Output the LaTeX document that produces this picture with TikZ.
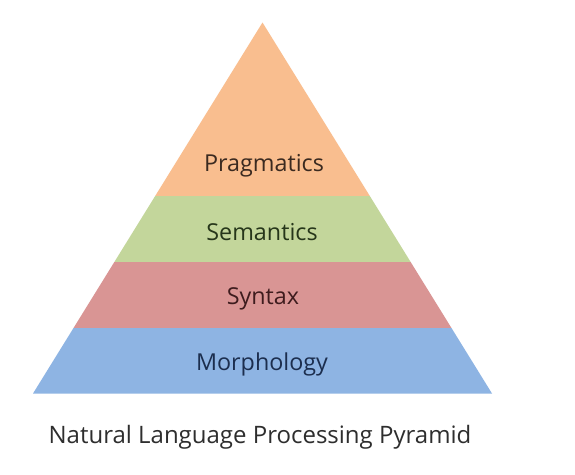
\documentclass[tikz,border=0pt]{standalone}
\usepackage{fontspec}
\setmainfont{Open Sans}
\usetikzlibrary{calc}
\definecolor{pragfill}{HTML}{F9BE8F}
\definecolor{semfill}{HTML}{C3D69B}
\definecolor{synfill}{HTML}{D99594}
\definecolor{morfill}{HTML}{8EB4E3}
\definecolor{pragtext}{HTML}{3B2A20}
\definecolor{semtext}{HTML}{26361A}
\definecolor{syntext}{HTML}{3E1C1E}
\definecolor{mortext}{HTML}{1C2E4E}
\definecolor{captext}{HTML}{2E2E2E}
\tikzset{layer/.style={font=\fontsize{17.5}{20}\selectfont}}

\begin{document}
\begin{tikzpicture}[x=0.75pt,y=-0.75pt]
    \useasboundingbox[fill=white] (0,0) rectangle (575,475);
    \coordinate (apex) at (262.5,22.5);
    \coordinate (bl) at (33,393.5);
    \coordinate (br) at (492,393.5);
    \coordinate (l1) at ($(apex)!0.4677!(bl)$);
    \coordinate (r1) at ($(apex)!0.4677!(br)$);
    \coordinate (l2) at ($(apex)!0.6456!(bl)$);
    \coordinate (r2) at ($(apex)!0.6456!(br)$);
    \coordinate (l3) at ($(apex)!0.8235!(bl)$);
    \coordinate (r3) at ($(apex)!0.8235!(br)$);
    \fill[pragfill] (apex) -- (r1) -- (l1) -- cycle;
    \fill[semfill] (l1) -- (r1) -- (r2) -- (l2) -- cycle;
    \fill[synfill] (l2) -- (r2) -- (r3) -- (l3) -- cycle;
    \fill[morfill] (l3) -- (r3) -- (br) -- (bl) -- cycle;
    \node[layer,text=pragtext] (P) at (264,166) {Pragmatics};
    \node[layer,text=semtext] (S) at (262,232) {Semantics};
    \node[layer,text=syntext] (Y) at (263,299) {Syntax};
    \node[layer,text=mortext] (M) at (262,364) {Morphology};
    \node[text=captext,font=\fontsize{18}{20}\selectfont] (C) at (260,437) {Natural Language Processing Pyramid};
  \end{tikzpicture}
\end{document}
